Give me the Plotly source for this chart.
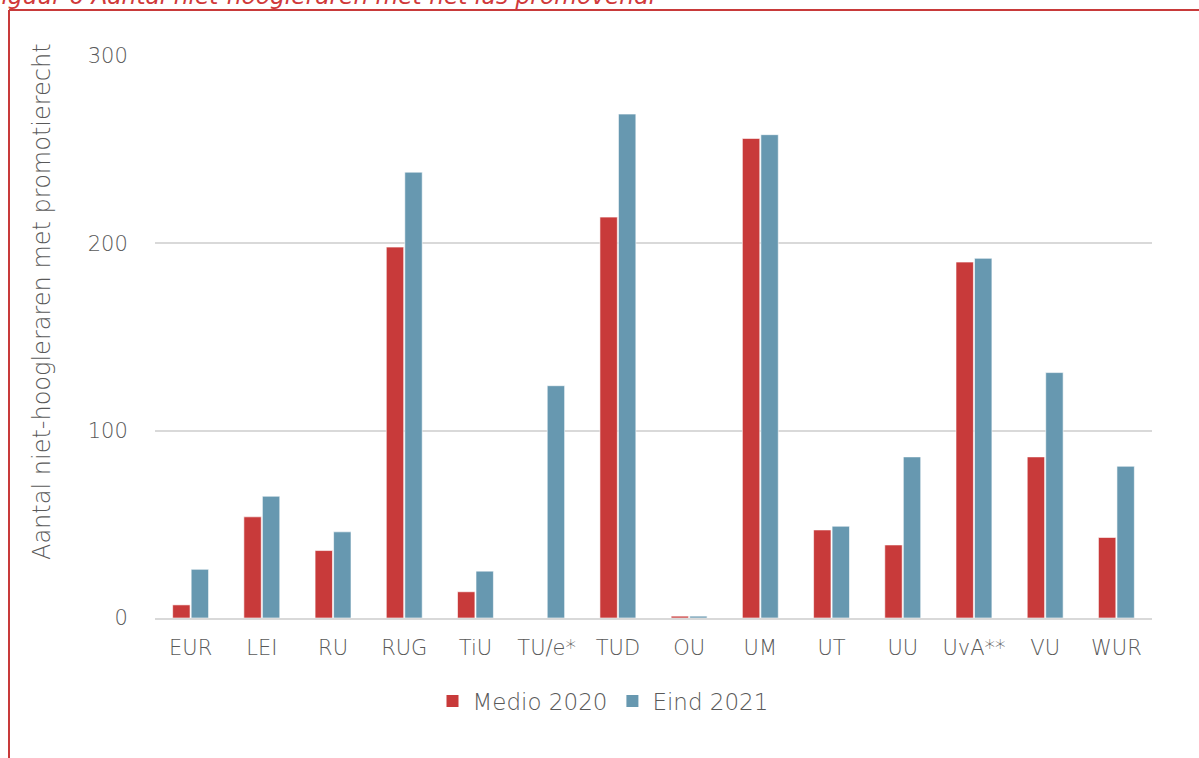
import plotly.graph_objects as go

categories = ["EUR", "LEI", "RU", "RUG", "TiU", "TU/e*", "TUD", "OU", "UM", "UT", "UU", "UvA**", "VU", "WUR"]
medio_2020 = [7, 54, 36, 198, 14, 0, 214, 1, 256, 47, 39, 190, 86, 43]
eind_2021 = [26, 65, 46, 238, 25, 124, 269, 1, 258, 49, 86, 192, 131, 81]
series_names = ["Medio 2020", "Eind 2021"]
y_ticks = [0, 100, 200, 300]
title_text = "Figuur 6 Aantal niet-hoogleraren met het ius promovendi"
y_title = "Aantal niet-hoogleraren met promotierecht"

RED = "#C83A3A"
BLUE = "#6798B0"
GRAY_TXT = "#595959"
FONT = "DejaVu Sans"

OFF = 0  # page body margin removed below
W, H = 1199, 758
L, T = 155 - OFF, 56 - OFF
R = W - (1152 - OFF)
B = H - (618 - OFF)
pw, ph = W - L - R, H - T - B

def px(x):
    return (x - OFF - L) / pw

def py(y):
    return (H - B - (y - OFF)) / ph

fig = go.Figure()
fig.add_trace(go.Bar(x=categories, y=medio_2020, name=series_names[0], showlegend=False,
                     marker=dict(color=RED, line=dict(color="white", width=0.6))))
fig.add_trace(go.Bar(x=categories, y=eind_2021, name=series_names[1], showlegend=False,
                     marker=dict(color=BLUE, line=dict(color="white", width=0.6))))
# legend entries with larger square swatches
for nm, col in zip(series_names, [RED, BLUE]):
    fig.add_trace(go.Scatter(x=[None], y=[None], mode="markers", name=nm,
                             marker=dict(symbol="square", size=13, color=col)))

fig.update_layout(
    width=W, height=H,
    margin=dict(l=L, r=R, t=T, b=B),
    paper_bgcolor="white", plot_bgcolor="white",
    barmode="group", bargap=0.48, bargroupgap=0.06,
    font=dict(family=FONT, color=GRAY_TXT, size=21, weight=300),
    showlegend=True,
    legend=dict(orientation="h", x=px(603), xanchor="center", y=py(701), yanchor="middle",
                font=dict(size=23, color=GRAY_TXT, weight=300), itemwidth=30, traceorder="normal",
                itemsizing="constant"),
    xaxis=dict(showgrid=False, showline=True, linecolor="#D9D9D9", linewidth=2,
               ticks="outside", ticklen=10, tickcolor="rgba(0,0,0,0)",
               tickfont=dict(size=21, color=GRAY_TXT, weight=300), zeroline=False),
    yaxis=dict(range=[0, 300], tickvals=y_ticks, showgrid=True, gridcolor="#D9D9D9",
               gridwidth=1.5, zeroline=False, showline=False,
               ticks="outside", ticklen=22, tickcolor="rgba(0,0,0,0)",
               tickfont=dict(size=21, color=GRAY_TXT, weight=300)),
    shapes=[
        dict(type="line", xref="paper", yref="paper", x0=px(9), x1=px(9), y0=py(10), y1=py(790),
             line=dict(color=RED, width=2)),
        dict(type="line", xref="paper", yref="paper", x0=px(9), x1=px(1230), y0=py(10), y1=py(10),
             line=dict(color=RED, width=2)),
    ],
    annotations=[
        dict(text="<i>" + title_text + "</i>", xref="paper", yref="paper", x=px(-14), y=py(11),
             xanchor="left", yanchor="bottom", showarrow=False,
             font=dict(family=FONT, size=23.3, color="#D0393A", weight=300)),
        dict(text=y_title, xref="paper", yref="paper", x=px(42), y=py(302),
             xanchor="center", yanchor="middle", showarrow=False, textangle=-90,
             font=dict(family=FONT, size=24, color=GRAY_TXT, weight=300)),
    ],
)

fig.write_html(
    "out.html",
    config={"displayModeBar": False},
    post_script="document.body.style.margin='0';",
)
